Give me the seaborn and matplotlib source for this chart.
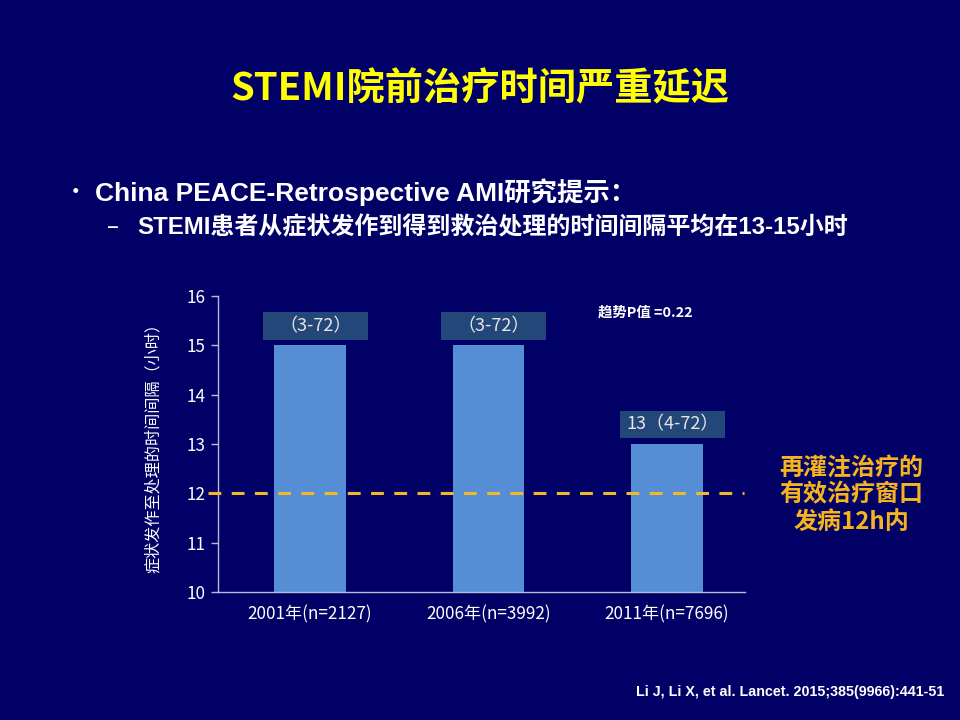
import matplotlib
matplotlib.use('Agg')
import matplotlib.pyplot as plt
import seaborn as sns
import pandas as pd
from matplotlib.patches import Rectangle

# chart data
groups = ['2001年(n=2127)', '2006年(n=3992)', '2011年(n=7696)']
median_hours = [15, 15, 13]
range_labels = ['（3-72）', '（3-72）', '13（4-72）']
window_hours = 12
p_trend = '趋势P值 =0.22'

bg = '#000066'
bar_color = '#558ED5'
box_color = '#24477A'
gold = '#F2B72A'

sns.set_theme(style='white')
plt.rcParams['font.family'] = ['Noto Sans CJK SC', 'DejaVu Sans']

df = pd.DataFrame({'group': groups, 'hours': median_hours})

fig = plt.figure(figsize=(9.6, 7.2), dpi=100, facecolor=bg)
ax = fig.add_axes([0.227, 0.178, 0.549, 0.411])
ax.set_facecolor(bg)

sns.barplot(data=df, x='group', y='hours', color=bar_color, width=0.4,
            saturation=1, linewidth=0, edgecolor='none', ax=ax)

ax.set_ylim(10, 16)
ax.set_xlim(-0.515, 2.437)
ax.set_yticks(range(10, 17))

for s in ['top', 'right']:
    ax.spines[s].set_visible(False)
for s in ['left', 'bottom']:
    ax.spines[s].set_color('#B8BCD8')
    ax.spines[s].set_linewidth(1.0)
ax.tick_params(axis='y', colors='#B8BCD8', labelcolor='white', labelsize=12.3,
               length=5, width=1, direction='out', left=True, pad=4)
ax.tick_params(axis='x', labelcolor='white', labelsize=12.3, length=0, pad=10)
ax.set_xlabel('')
ax.set_ylabel('症状发作至处理的时间间隔（小时）', color='white', fontsize=11.6,
              labelpad=18)

# range label boxes above bars
for i, (v, lab) in enumerate(zip(median_hours, range_labels)):
    ax.add_patch(Rectangle((i + 0.03 - 0.295, v + 0.11), 0.59, 0.56,
                           facecolor=box_color, edgecolor='none'))
    ax.text(i + 0.03, v + 0.39, lab, ha='center', va='center',
            color='#E6E6E6', fontsize=13)

# reperfusion window line
ax.plot([-0.57, 2.43], [window_hours, window_hours], color=gold, lw=2.2,
        dashes=(4.2, 3.4), clip_on=False, zorder=5)

ax.text(1.877, 15.66, p_trend, ha='center', va='center', color='white',
        fontsize=10.4, fontweight='bold')

fig.text(0.5, 0.876, 'STEMI院前治疗时间严重延迟', ha='center', va='center',
         color='#FFFF00', fontsize=27.5, fontweight='bold')
fig.text(0.066, 0.733, '•', ha='left', va='center', color='white', fontsize=17)
fig.text(0.099, 0.733, 'China PEACE-Retrospective AMI研究提示：', ha='left',
         va='center', color='white', fontsize=19, fontweight='bold',
         family=['Liberation Sans', 'Noto Sans CJK SC'])
fig.text(0.111, 0.684, '–', ha='left', va='center', color='white', fontsize=16)
fig.text(0.143, 0.684, 'STEMI患者从症状发作到得到救治处理的时间间隔平均在13-15小时',
         ha='left', va='center', color='white', fontsize=17.3, fontweight='bold',
         family=['Liberation Sans', 'Noto Sans CJK SC'])
fig.text(0.887, 0.313, '再灌注治疗的\n有效治疗窗口\n发病12h内', ha='center',
         va='center', color='#F5B41E', fontsize=17.3, fontweight='bold',
         linespacing=1.15)
fig.text(0.984, 0.039, 'Li J, Li X, et al. Lancet. 2015;385(9966):441-51',
         ha='right', va='center', color='white', fontsize=10.3,
         fontweight='bold', family=['Liberation Sans', 'DejaVu Sans'])

fig.savefig('out.png', dpi=100, facecolor=bg)
